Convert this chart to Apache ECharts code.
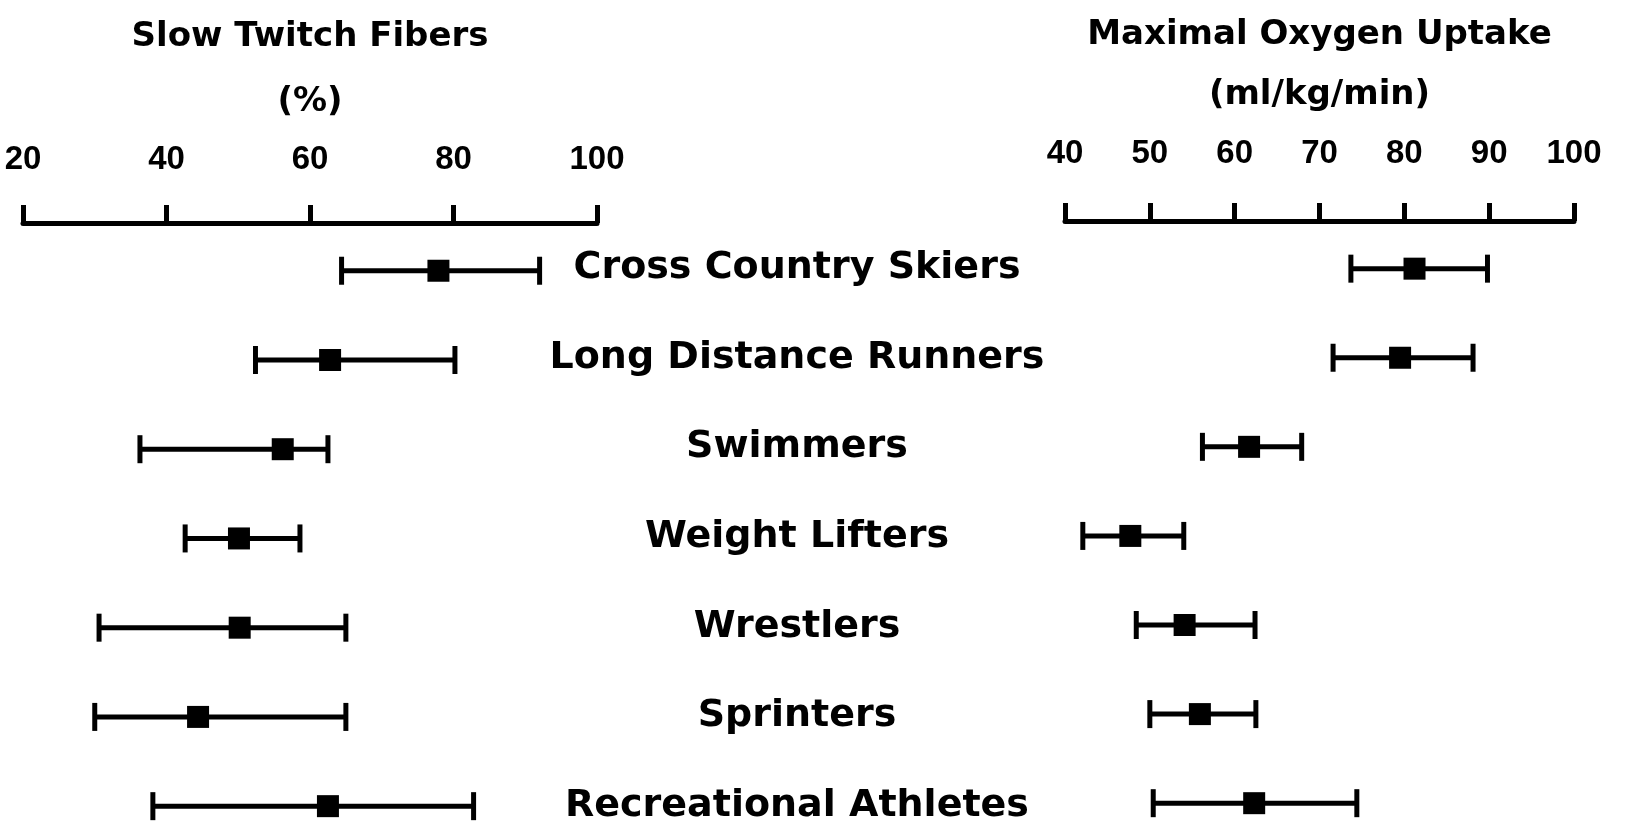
<!DOCTYPE html>
<html>
<head>
<meta charset="utf-8">
<script src="https://cdn.jsdelivr.net/npm/echarts@6/dist/echarts.min.js"></script>
<style>
  html, body { margin: 0; padding: 0; background: #fff; }
  #main { width: 1629px; height: 828px; }
</style>
</head>
<body>
<div id="main"></div>
<script>
// athlete groups, top to bottom
const groups = ['Cross Country Skiers', 'Long Distance Runners', 'Swimmers', 'Weight Lifters',
  'Wrestlers', 'Sprinters', 'Recreational Athletes'];

// slow twitch fibers (%)
const fiberLow = [64.4, 52.4, 36.3, 42.6, 30.6, 30.0, 38.1];
const fiberMean = [77.9, 62.8, 56.2, 50.1, 50.2, 44.4, 62.5];
const fiberHigh = [92.0, 80.2, 62.5, 58.6, 65.0, 65.0, 82.8];

// maximal oxygen uptake (ml/kg/min)
const vo2Low = [73.7, 71.6, 56.2, 42.1, 48.4, 50.0, 50.4];
const vo2Mean = [81.2, 79.5, 61.7, 47.7, 54.1, 55.9, 62.3];
const vo2High = [89.8, 88.1, 67.9, 54.0, 62.4, 62.5, 74.4];

const font = 'DejaVu Sans';

function rows(low, mean, high) {
  return groups.map((g, i) => [i, low[i], mean[i], high[i]]);
}

function renderBar(params, api) {
  const y = api.value(0);
  const lo = api.coord([api.value(1), y]);
  const mid = api.coord([api.value(2), y]);
  const hi = api.coord([api.value(3), y]);
  const cap = 14;
  const sq = 22;
  const style = { stroke: '#000', lineWidth: 5 };
  return {
    type: 'group',
    children: [
      { type: 'line', shape: { x1: lo[0], y1: lo[1], x2: hi[0], y2: hi[1] }, style },
      { type: 'line', shape: { x1: lo[0], y1: lo[1] - cap, x2: lo[0], y2: lo[1] + cap }, style },
      { type: 'line', shape: { x1: hi[0], y1: hi[1] - cap, x2: hi[0], y2: hi[1] + cap }, style },
      { type: 'rect', shape: { x: mid[0] - sq / 2, y: mid[1] - sq / 2, width: sq, height: sq }, style: { fill: '#000' } }
    ]
  };
}

function topAxis(grid, min, max, interval, name, margin, nameGap, lineHeight) {
  return {
    gridIndex: grid,
    type: 'value',
    position: 'top',
    min, max, interval,
    splitLine: { show: false },
    axisLine: { show: true, onZero: false, lineStyle: { color: '#000', width: 5 } },
    axisTick: { show: true, inside: false, length: 18, lineStyle: { color: '#000', width: 5 } },
    axisLabel: { margin, fontSize: 33, fontWeight: 'bold', color: '#000', fontFamily: 'Liberation Sans' },
    name,
    nameLocation: 'middle',
    nameGap,
    nameTextStyle: { fontSize: 34, fontWeight: 'bold', color: '#000', fontFamily: font, lineHeight }
  };
}

function rowAxis(grid) {
  return { gridIndex: grid, type: 'value', min: -0.535, max: 6.2, inverse: true, show: false };
}

const chart = echarts.init(document.getElementById('main'));

chart.setOption({
  backgroundColor: '#fff',
  animation: false,
  grid: [
    { left: 23, width: 574, top: 220, height: 604 },
    { left: 1065, width: 509, top: 217, height: 604 },
    { left: 620, width: 354, top: 220, height: 604 }
  ],
  xAxis: [
    topAxis(0, 20, 100, 20, 'Slow Twitch Fibers\n(%)', 47, 88, 65),
    topAxis(1, 40, 100, 10, 'Maximal Oxygen Uptake\n(ml/kg/min)', 51, 96, 60),
    { gridIndex: 2, type: 'value', min: 0, max: 1, show: false }
  ],
  yAxis: [rowAxis(0), rowAxis(1), rowAxis(2)],
  series: [
    {
      type: 'custom', xAxisIndex: 0, yAxisIndex: 0,
      renderItem: renderBar,
      encode: { x: [1, 2, 3], y: 0 },
      data: rows(fiberLow, fiberMean, fiberHigh)
    },
    {
      type: 'custom', xAxisIndex: 1, yAxisIndex: 1,
      renderItem: renderBar,
      encode: { x: [1, 2, 3], y: 0 },
      data: rows(vo2Low, vo2Mean, vo2High)
    },
    {
      type: 'scatter', xAxisIndex: 2, yAxisIndex: 2,
      symbolSize: 0,
      silent: true,
      itemStyle: { opacity: 1, color: '#000' },
      data: groups.map((g, i) => ({ value: [0.5, i], name: g })),
      label: {
        show: true, position: 'inside',
        formatter: p => p.name,
        fontSize: 38, fontWeight: 'bold', color: '#000', fontFamily: font
      }
    }
  ]
});
</script>
</body>
</html>
